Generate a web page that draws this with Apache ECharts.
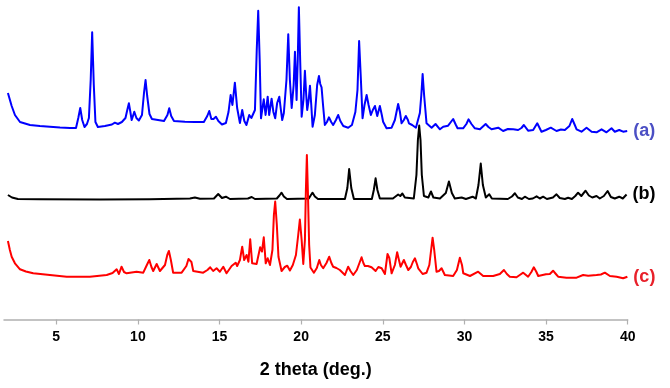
<!DOCTYPE html>
<html><head><meta charset="utf-8">
<script src="https://cdn.jsdelivr.net/npm/echarts@6/dist/echarts.min.js"></script>
<style>html,body{margin:0;padding:0;background:#fff}#c{width:670px;height:388px}</style>
</head><body><div id="c"></div>
<script>
// Tick labels of the 2-theta axis
const tickValues = [5, 10, 15, 20, 25, 30, 35, 40];
const seriesNames = ['(a)', '(b)', '(c)'];
// vertical stacking offsets of the three patterns (arbitrary intensity units)
const offsets = [186, 120, 40];

// Pattern (a) – blue
const thetaA = [2.04,2.27,2.47,2.78,3.39,4.00,4.61,5.23,5.84,6.21,6.35,6.47,6.59,6.73,6.88,7.00,7.11,7.20,7.30,7.40,7.55,7.98,8.41,8.59,8.78,9.02,9.24,9.35,9.45,9.54,9.62,9.70,9.78,9.91,10.06,10.25,10.38,10.47,10.57,10.71,10.86,11.23,11.60,11.81,11.92,12.04,12.21,12.88,13.49,14.04,14.25,14.37,14.50,14.63,14.78,14.93,15.15,15.39,15.55,15.68,15.79,15.94,16.08,16.25,16.39,16.52,16.65,16.82,16.95,17.05,17.17,17.28,17.37,17.46,17.54,17.63,17.71,17.82,17.95,18.04,18.19,18.30,18.41,18.53,18.66,18.76,18.84,18.94,19.10,19.21,19.31,19.42,19.54,19.62,19.72,19.79,19.86,19.94,20.03,20.14,20.23,20.31,20.37,20.46,20.54,20.62,20.70,20.84,20.98,21.09,21.17,21.25,21.34,21.45,21.58,21.70,21.84,21.96,22.13,22.27,22.40,22.58,22.88,23.11,23.32,23.45,23.55,23.66,23.76,23.88,24.01,24.13,24.27,24.39,24.52,24.66,24.82,24.94,25.02,25.23,25.54,25.74,25.94,26.05,26.15,26.29,26.41,26.54,26.60,26.80,27.03,27.27,27.36,27.44,27.53,27.68,27.99,28.23,28.50,28.70,29.00,29.17,29.31,29.48,29.58,29.92,30.12,30.25,30.43,30.64,30.95,31.30,31.47,31.66,32.07,32.37,32.66,32.99,33.29,33.49,33.64,33.90,34.21,34.46,34.72,34.99,35.29,35.64,35.91,36.15,36.43,36.60,36.76,36.87,37.17,37.48,37.79,38.09,38.40,38.70,39.01,39.21,39.48,39.72,39.97];
const intA = [40.5,27.5,18.5,11.5,8.5,7.5,6.8,6,5.5,5.5,15.5,25.5,13.5,6.5,9.5,15.5,53.5,101.2,48.5,11.5,6.5,7.5,9,10.8,9.5,11.5,15.5,23.5,30.2,21.5,13.5,17.5,21.8,15.5,13,18.5,41.5,53.5,37.5,19.5,14.5,13.5,12.5,18.5,25.2,17.5,12.5,11.8,11.5,11.5,17.5,22.5,14.5,14.5,16.8,12.5,9,10.5,21.5,38.5,28.5,50.8,25.5,10.5,23.5,12.5,8.5,18.5,15.5,13.5,23.5,83.5,122.8,73.5,15.2,25.5,34.2,18.5,36.8,18.5,34.8,21.5,15.2,30.5,36.8,23.5,13.5,20.5,53.5,99.2,53.5,25.5,48.5,81.8,33.5,73.5,126.2,73.5,16.8,33.5,62.8,38.5,23.5,33.5,47.8,28.5,6.8,18.5,48.5,57.5,49.5,46.2,28.5,8.5,11.5,16.2,11.5,8.5,13.5,18.5,12.5,7.5,5.8,8.5,21.5,43.5,92.5,53.5,15.2,28.5,38.5,28.5,18.5,23.5,27.5,17.5,27.5,18.5,11.8,5.2,5.8,13.5,29.5,21.5,10.2,13.5,17.5,13.5,10.2,8.5,5.8,20.5,38.5,59.5,38.5,10.2,5.8,9.5,4.2,6.8,7.8,11.5,14.5,8.5,5.2,5.2,9.5,14.2,9.5,5.2,4.2,9.5,6.5,4.2,5.8,2.5,4.5,4.2,3.5,5.5,8.5,2.8,3.5,10.2,1.8,3.5,5.8,2.5,4,3.5,7.5,14.5,8.5,4.2,1.8,5.8,1.8,1.2,4.2,1.2,5.2,1.8,3.5,1.8,2.5];

// Pattern (b) – black
const thetaB = [2.04,2.29,2.65,4.00,7.68,10.74,13.19,13.49,13.80,14.66,14.92,15.15,15.39,15.64,16.74,16.97,17.17,18.51,18.67,18.80,18.94,19.13,20.47,20.60,20.70,20.84,21.03,22.68,22.83,22.94,23.07,23.23,24.33,24.45,24.56,24.67,24.82,25.62,25.94,26.07,26.20,26.35,26.90,27.06,27.15,27.23,27.31,27.39,27.52,27.79,27.95,28.10,28.50,28.86,29.05,29.23,29.41,29.83,30.09,30.50,30.70,30.86,31.00,31.13,31.31,31.52,31.68,32.66,32.91,33.09,33.27,33.52,33.70,33.95,34.19,34.42,34.62,34.82,35.05,35.42,35.64,35.84,36.15,36.35,36.58,36.79,36.96,37.16,37.42,37.62,37.83,38.09,38.29,38.54,38.77,38.97,39.21,39.48,39.70,39.93];
const intB = [4.5,2,0.5,0.2,0,0.2,1,2,0.8,1,5.5,1.5,2.8,0.5,1,2.5,0.5,1,4,6.8,3,0.5,1,4.5,6.8,3,0.5,0.5,11.5,30.5,11.5,0.5,0.5,9.5,21.2,9.5,1,1,5,3.5,6,2,1,24.5,59.5,74,59.5,24.5,3.5,2,8,2,1,6.5,18,6.5,1,2,0.5,2.8,1,14.5,36,14.5,2,5.2,1,0.5,3,6.2,2,0.5,2.8,0.5,1,3.2,1,2.8,0.5,2,5.2,1.5,0.5,1.8,0.5,3.5,6.8,3.5,8.8,4,2,3.5,1,3.5,8.5,2.5,1,2.8,1,5];

// Pattern (c) – red
const thetaC = [2.04,2.16,2.27,2.47,2.78,3.14,3.59,4.61,5.64,7.06,8.09,8.45,8.70,8.84,9.00,9.15,9.31,9.92,10.33,10.55,10.70,10.83,10.94,11.15,11.35,11.66,11.80,11.90,12.02,12.16,12.68,12.97,13.10,13.19,13.28,13.39,14.00,14.26,14.43,14.61,14.82,15.02,15.23,15.43,15.74,15.99,16.08,16.25,16.39,16.51,16.66,16.77,16.88,17.00,17.27,17.49,17.60,17.71,17.83,17.95,18.09,18.24,18.33,18.41,18.51,18.61,18.80,19.00,19.15,19.31,19.49,19.68,19.82,19.92,20.03,20.13,20.23,20.29,20.35,20.41,20.49,20.57,20.78,20.96,21.11,21.21,21.35,21.55,21.72,21.85,21.96,22.16,22.37,22.68,22.88,23.02,23.19,23.41,23.57,23.70,23.81,23.90,24.09,24.31,24.56,24.73,24.93,25.13,25.29,25.40,25.54,25.74,25.88,25.99,26.09,26.29,26.42,26.56,26.72,26.84,26.97,27.09,27.17,27.44,27.68,27.85,27.96,28.05,28.15,28.29,28.44,28.60,28.80,29.31,29.54,29.72,29.85,29.93,30.34,30.84,31.15,31.76,32.17,32.42,32.60,32.78,33.19,33.39,33.60,33.90,34.10,34.25,34.41,34.52,34.99,35.23,35.43,35.60,35.74,36.25,36.87,37.27,37.58,38.09,38.36,38.60,38.91,39.32,39.72,39.98];
const intC = [38.5,29.5,22.8,16.2,10.2,8,6.2,4.5,2.8,2.8,4.5,6.5,10.2,5.5,12.8,7.5,6.2,7.8,6.8,14.5,19.5,12.5,8.5,15.5,8.5,14.5,24.5,28.5,19.5,6.8,6.8,13.5,20.5,22.2,17.5,8.5,6.8,9.5,12.2,8.5,11.2,7.8,12.8,6.2,13.5,16.8,13.5,19.5,32.8,19.5,24.5,17.8,40.2,16.2,15.5,32.2,28,42.2,16.2,21.2,14.5,29.5,64.5,78,54.5,22.8,8.5,12.5,13.8,9,14.5,24.5,44.5,60,39.5,15.5,39.5,89.5,124.5,89.5,34.5,12,6.8,11.5,19.5,14.5,11.2,16.5,22.8,16.5,12.8,11.5,9.5,4.5,12.8,8.5,4.5,9.5,16.5,22.2,16.5,13.5,13.5,12.2,8.5,12.5,11.2,5.5,25.5,21.5,6.2,14.5,27.2,19.5,12.8,19.5,14.5,9.5,12.5,17.5,21.2,15.5,11.2,5.5,6.8,14.5,29.5,41.8,29.5,7.8,8.5,11.2,4.5,3.5,9.5,21.8,14.5,6.2,3.5,7.8,3.5,3.5,5.5,9.5,5.5,2.8,2.2,4.5,6.8,2.8,7.5,12.2,7.5,3.5,5.2,5.5,8.8,5.5,2.8,1.8,1.8,4.5,3.8,4.5,5,6.8,3.5,2.8,1.2,2.8];

function build(theta, inten, off) { return theta.map((t, i) => [t, inten[i] + off]); }

const chart = echarts.init(document.getElementById('c'), null, {renderer: 'canvas'});
const font = 'Liberation Sans, Arial, sans-serif';
function mk(idx, theta, inten, color, width, labelColor) {
  return {
    name: seriesNames[idx], type: 'line', data: build(theta, inten, offsets[idx]),
    showSymbol: false, symbol: 'none', smooth: false,
    lineStyle: {color: color, width: width, join: 'round'},
    itemStyle: {color: color},
    endLabel: {show: true, formatter: '{a}', distance: 6, color: labelColor,
      fontSize: 18, fontWeight: 'bold', fontFamily: font},
    emphasis: {disabled: true}, silent: true
  };
}
chart.setOption({
  animation: false,
  backgroundColor: '#ffffff',
  grid: {left: 4, right: 42.3, top: 0, bottom: 68.5, containLabel: false},
  xAxis: {
    type: 'value', min: 1.8, max: 40,
    name: '2 theta (deg.)', nameLocation: 'middle', nameGap: 42,
    nameTextStyle: {fontSize: 18, fontWeight: 'bold', color: '#000', fontFamily: font},
    axisLine: {show: true, onZero: false, lineStyle: {color: '#b0b0b0', width: 1.5}},
    axisTick: {show: true, length: 5, customValues: tickValues, lineStyle: {color: '#b0b0b0', width: 1.2}},
    axisLabel: {customValues: tickValues, margin: 11, fontSize: 14, fontWeight: 'bold', color: '#000', fontFamily: font},
    splitLine: {show: false}
  },
  yAxis: {type: 'value', min: 0, max: 319.5, show: false},
  series: [
    mk(1, thetaB, intB, '#000000', 2, '#000000'),
    mk(2, thetaC, intC, '#ff0000', 2, '#e8202a'),
    mk(0, thetaA, intA, '#0000ff', 2, '#4b4fc4')
  ]
});
</script></body></html>
